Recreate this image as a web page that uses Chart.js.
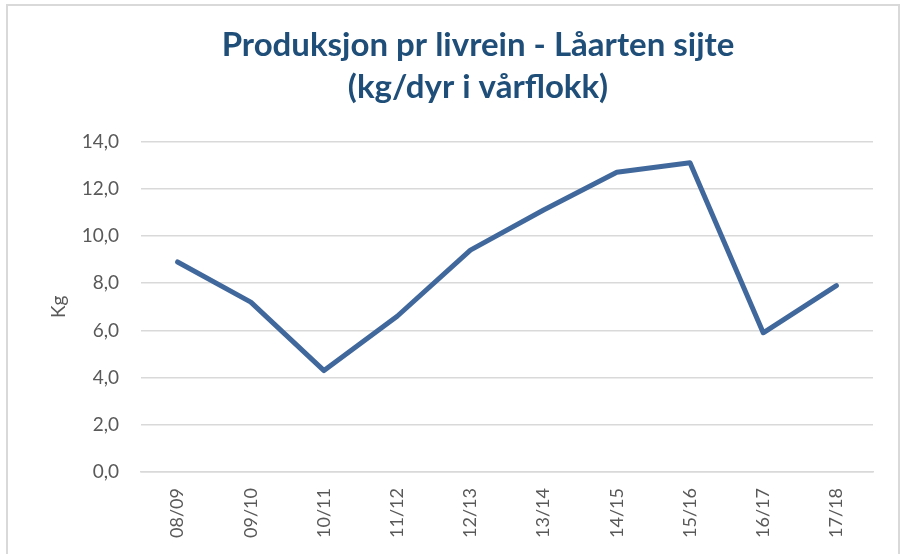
<!DOCTYPE html>
<html>
<head>
<meta charset="utf-8">
<script src="https://cdn.jsdelivr.net/npm/chart.js@4/dist/chart.umd.min.js"></script>
<style>
  html, body { margin: 0; padding: 0; background: #ffffff; }
  #wrap { position: relative; width: 909px; height: 554px; overflow: hidden; }
  #frame { position: absolute; left: 6px; top: 4px; width: 894px; height: 560px;
           border: 2px solid #d9d9d9; box-sizing: border-box; pointer-events: none; }
  canvas { position: absolute; left: 0; top: 0; }
</style>
</head>
<body>
<div id="wrap">
  <canvas id="kgChart" width="909" height="554"></canvas>
  <div id="frame"></div>
</div>
<script>
// season labels on the x axis
var seasons = ["08/09", "09/10", "10/11", "11/12", "12/13", "13/14", "14/15", "15/16", "16/17", "17/18"];
// kg per animal in spring herd
var kgPerAnimal = [8.9, 7.2, 4.3, 6.6, 9.4, 11.1, 12.7, 13.1, 5.9, 7.9];
// y axis range
var yMin = 0;
var yMax = 14;
var yStep = 2;

var titleLines = ["Produksjon pr livrein - Låarten sijte", "(kg/dyr i vårflokk)"];

document.addEventListener("DOMContentLoaded", function () {
  var ctx = document.getElementById("kgChart").getContext("2d");
  var kgChart = new Chart(ctx, {
    type: "line",
    data: {
      labels: seasons,
      datasets: [
        {
          label: "Kg",
          data: kgPerAnimal,
          borderColor: "#41689c",
          backgroundColor: "#41689c",
          borderWidth: 5,
          pointRadius: 0,
          tension: 0,
          borderCapStyle: "round",
          borderJoinStyle: "round",
        },
      ],
    },
    options: {
      responsive: false,
      animation: false,
      layout: {
        padding: { left: 47, right: 0, top: 25, bottom: 0 },
      },
      plugins: {
        legend: { display: false },
        tooltip: { enabled: false },
        title: {
          display: true,
          text: titleLines,
          color: "#1f4e79",
          font: { family: "Lato", size: 33, weight: "bold", lineHeight: 1.25 },
          padding: { top: 0, bottom: 34 },
        },
      },
      scales: {
        x: {
          offset: true,
          grid: { display: false, drawTicks: false },
          border: { display: true, color: "#d9d9d9", width: 1.5 },
          ticks: {
            color: "#595959",
            font: { family: "Lato", size: 18 },
            minRotation: 90,
            maxRotation: 90,
            padding: 16,
            autoSkip: false,
          },
        },
        y: {
          min: yMin,
          max: yMax,
          grid: { color: "#d9d9d9", lineWidth: 1.5, drawTicks: false },
          border: { display: false },
          ticks: {
            stepSize: yStep,
            color: "#595959",
            font: { family: "Lato", size: 19 },
            padding: 22,
            callback: function (v) {
              return v.toFixed(1).replace(".", ",");
            },
          },
          title: {
            display: true,
            text: "Kg",
            color: "#595959",
            font: { family: "Lato", size: 19 },
            padding: { top: 0, bottom: 0 },
          },
          afterFit: function (scale) {
            scale.width = 94;
          },
        },
        // empty right axis, only to keep room right of the plot
        yRight: {
          position: "right",
          grid: { display: false, drawTicks: false },
          border: { display: false },
          ticks: { display: false },
          afterFit: function (scale) {
            scale.width = 36;
          },
        },
      },
    },
  });
});
</script>
</body>
</html>
